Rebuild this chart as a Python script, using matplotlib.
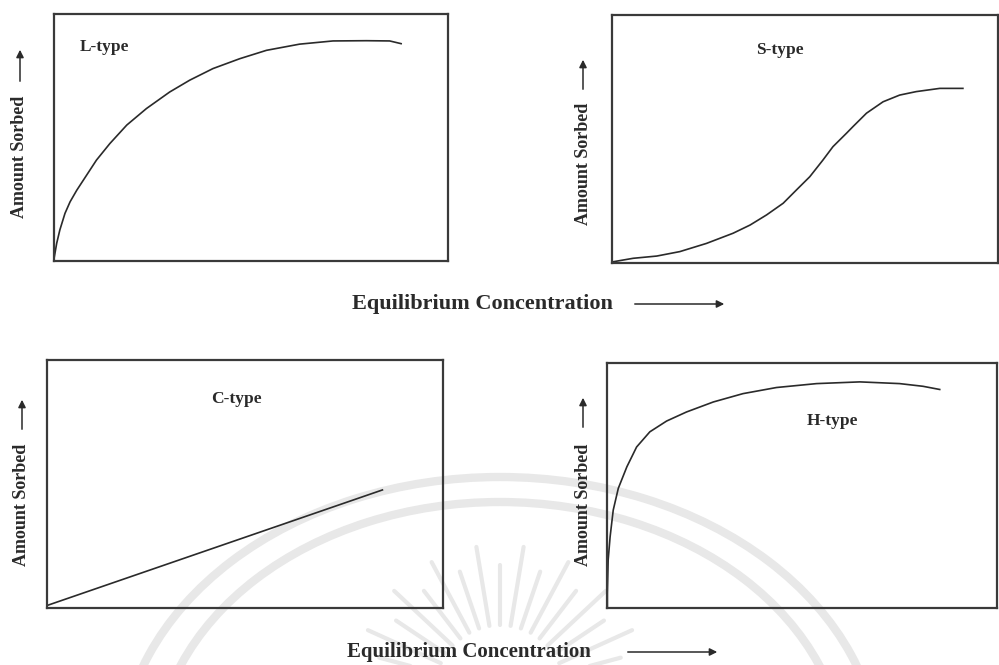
import numpy as np
import matplotlib
matplotlib.use("Agg")
import matplotlib.pyplot as plt
from matplotlib.patches import Arc, FancyArrowPatch

# curves, in axes fractions (0..1)
l_x = [0.001, 0.007, 0.015, 0.028, 0.041, 0.058, 0.083, 0.108, 0.142, 0.185, 0.235,
       0.294, 0.345, 0.404, 0.472, 0.540, 0.624, 0.709, 0.794, 0.853, 0.882]
l_y = [0.017, 0.072, 0.126, 0.193, 0.240, 0.287, 0.348, 0.409, 0.476, 0.551, 0.618,
       0.685, 0.733, 0.780, 0.820, 0.854, 0.879, 0.892, 0.893, 0.892, 0.881]

s_x = [0.003, 0.055, 0.116, 0.176, 0.245, 0.314, 0.358, 0.401, 0.444, 0.478, 0.513,
       0.547, 0.573, 0.608, 0.625, 0.660, 0.703, 0.746, 0.789, 0.850, 0.910]
s_y = [0.005, 0.019, 0.028, 0.046, 0.079, 0.120, 0.153, 0.194, 0.241, 0.294, 0.348,
       0.415, 0.469, 0.523, 0.550, 0.604, 0.650, 0.677, 0.691, 0.704, 0.704]

c_x = [0.0, 0.848]
c_y = [0.01, 0.476]

h_x = [0.001, 0.001, 0.003, 0.008, 0.016, 0.029, 0.051, 0.076, 0.110, 0.153, 0.204,
       0.273, 0.349, 0.435, 0.538, 0.649, 0.751, 0.811, 0.854]
h_y = [0.005, 0.061, 0.196, 0.291, 0.400, 0.489, 0.577, 0.658, 0.720, 0.764, 0.801,
       0.842, 0.876, 0.901, 0.917, 0.924, 0.917, 0.906, 0.893]

panel_names = ["L-type", "S-type", "C-type", "H-type"]
y_title = "Amount Sorbed"
x_title = "Equilibrium Concentration"

INK = "#2a2a2a"
FONT = "Liberation Serif"

fig = plt.figure(figsize=(9.99, 6.65), dpi=100)

# faint watermark behind everything (pixel coords)
bg = fig.add_axes([0, 0, 1, 1], zorder=-5)
bg.set_xlim(0, 999)
bg.set_ylim(665, 0)
bg.axis("off")
wm = "#e8e8e8"
bg.add_patch(Arc((500, 765), 760, 576, color=wm, lw=6))
bg.add_patch(Arc((500, 765), 690, 526, color=wm, lw=6))
for i, ang in enumerate(np.linspace(15, 165, 17)):
    a = np.radians(ang)
    r0 = 65
    r1 = 145 if i % 2 else 125
    bg.plot([500 + r0 * np.cos(a), 500 + r1 * np.cos(a)],
            [690 - r0 * np.sin(a), 690 - r1 * np.sin(a)],
            color=wm, lw=3, solid_capstyle="round")

# axes boxes [left, bottom, width, height]
boxes = [
    [0.054, 0.6075, 0.394, 0.371],
    [0.6126, 0.6045, 0.386, 0.373],
    [0.047, 0.0857, 0.396, 0.373],
    [0.6076, 0.0857, 0.390, 0.368],
]
curves = [(l_x, l_y), (s_x, s_y), (c_x, c_y), (h_x, h_y)]
name_pos = [(0.066, 0.866, "left"), (0.435, 0.859, "center"),
            (0.48, 0.843, "center"), (0.579, 0.763, "center")]

for box, (xs, ys), name, (tx, ty, ha) in zip(boxes, curves, panel_names, name_pos):
    ax = fig.add_axes(box)
    ax.set_facecolor("none")
    ax.plot(xs, ys, color=INK, lw=1.2)
    ax.set_xlim(0, 1)
    ax.set_ylim(0, 1)
    ax.set_xticks([])
    ax.set_yticks([])
    for sp in ax.spines.values():
        sp.set_color("#3a3a3a")
        sp.set_linewidth(1.6)
    ax.text(tx, ty, name, transform=ax.transAxes, ha=ha, va="center",
            family=FONT, weight="bold", fontsize=12.5, color=INK)


def px(x, y):
    return (x / 999, 1 - y / 665)


# y labels: (x, text centre y, arrow bottom, arrow top) in pixels
ylabels = [(20, 157, 84, 47), (583, 164, 92, 57), (22, 505, 432, 397), (583, 505, 430, 395)]
for x, yc, a0, a1 in ylabels:
    fig.text(*px(x, yc), y_title, rotation=90, ha="center", va="center",
             family=FONT, weight="bold", fontsize=13, color=INK)
    fig.add_artist(FancyArrowPatch(
        px(x, a0), px(x, a1), transform=fig.transFigure, arrowstyle="-|>",
        mutation_scale=11, lw=1.1, color=INK))

# x labels: (text left, y, arrow start, arrow end, size) in pixels
xlabels = [(352, 304, 632, 727, 16), (347, 652, 625, 720, 15)]
for x0, y, a0, a1, fs in xlabels:
    fig.text(*px(x0, y), x_title, ha="left", va="center",
             family=FONT, weight="bold", fontsize=fs, color=INK)
    fig.add_artist(FancyArrowPatch(
        px(a0, y), px(a1, y), transform=fig.transFigure, arrowstyle="-|>",
        mutation_scale=11, lw=1.1, color=INK))

fig.savefig("out.png", dpi=100)
